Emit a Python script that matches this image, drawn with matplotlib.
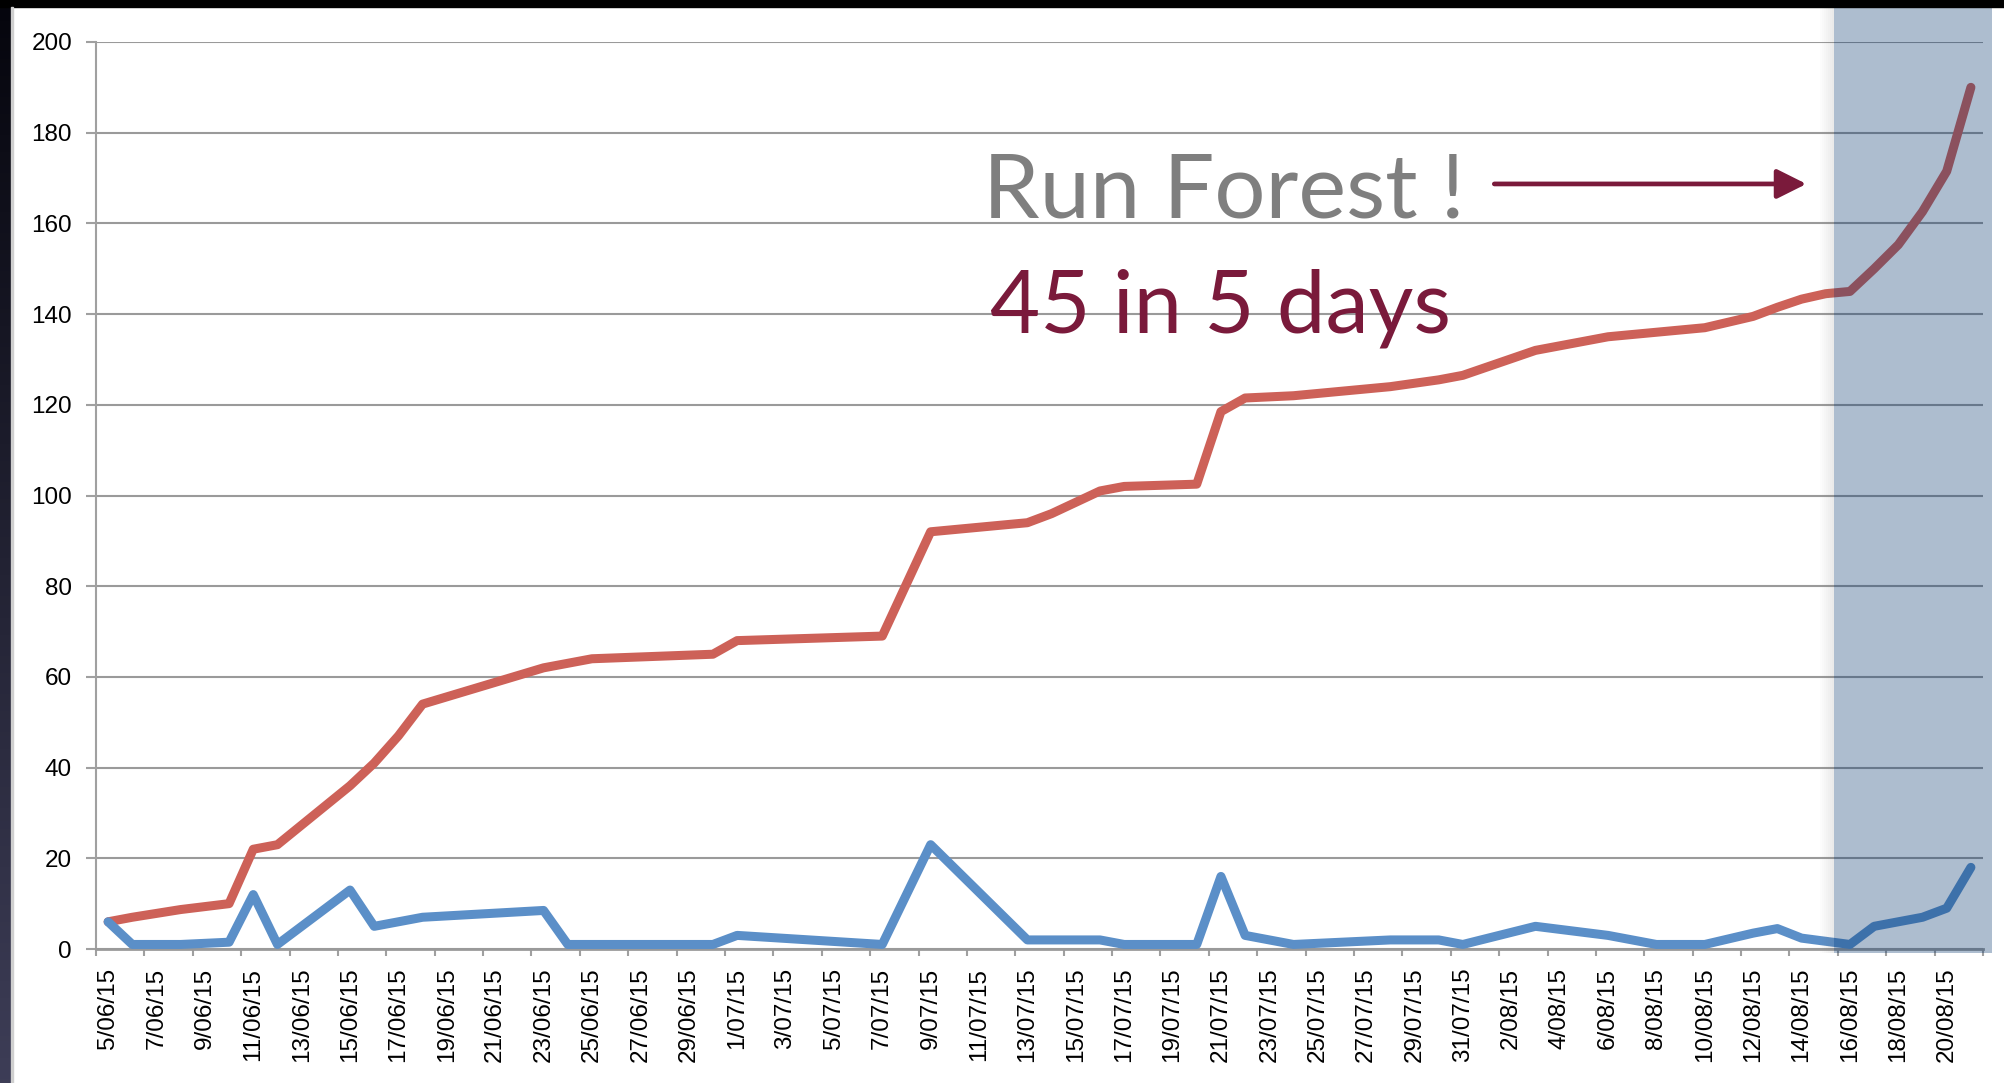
import numpy as np
import pandas as pd
import matplotlib
matplotlib.use("Agg")
import matplotlib.pyplot as plt
from matplotlib.patches import Rectangle

# data (days with a point)
dates = ["2015-06-05", "2015-06-06", "2015-06-08", "2015-06-10", "2015-06-11",
         "2015-06-12", "2015-06-15", "2015-06-16", "2015-06-17", "2015-06-18",
         "2015-06-23", "2015-06-24", "2015-06-25", "2015-06-30", "2015-07-01",
         "2015-07-07", "2015-07-09", "2015-07-13", "2015-07-14", "2015-07-15",
         "2015-07-16", "2015-07-17", "2015-07-20", "2015-07-21", "2015-07-22",
         "2015-07-24", "2015-07-28", "2015-07-30", "2015-07-31", "2015-08-03",
         "2015-08-06", "2015-08-08", "2015-08-10", "2015-08-12", "2015-08-13",
         "2015-08-14", "2015-08-15", "2015-08-16", "2015-08-17", "2015-08-18",
         "2015-08-19", "2015-08-20", "2015-08-21"]
total = [6, 7, 8.7, 10, 22,
         23, 36, 41, 47, 54,
         62, 63, 64, 65, 68,
         69, 92, 94, 96, 98.5,
         101, 102, 102.5, 118.5, 121.5,
         122, 124, 125.5, 126.5, 132,
         135, 136, 137, 139.5, 141.5,
         143.3, 144.5, 145, 150, 155.3,
         162.6, 171.5, 190]
daily = [6, 1, 1, 1.5, 12,
         1, 13, 5, 6, 7,
         8.5, 1, 1, 1, 3,
         1, 23, 2, 2, 2,
         2, 1, 1, 16, 3,
         1, 2, 2, 1, 5,
         3, 1, 1, 3.5, 4.5,
         2.4, 1.7, 1, 5, 6,
         7, 9, 18]

tick_labels = ["5/06/15", "7/06/15", "9/06/15", "11/06/15", "13/06/15", "15/06/15",
               "17/06/15", "19/06/15", "21/06/15", "23/06/15", "25/06/15", "27/06/15",
               "29/06/15", "1/07/15", "3/07/15", "5/07/15", "7/07/15", "9/07/15",
               "11/07/15", "13/07/15", "15/07/15", "17/07/15", "19/07/15", "21/07/15",
               "23/07/15", "25/07/15", "27/07/15", "29/07/15", "31/07/15", "2/08/15",
               "4/08/15", "6/08/15", "8/08/15", "10/08/15", "12/08/15", "14/08/15",
               "16/08/15", "18/08/15", "20/08/15"]

start = pd.Timestamp("2015-06-05")
x = (pd.to_datetime(dates) - start).days.values
tick_pos = (pd.to_datetime(tick_labels, format="%d/%m/%y") - start).days.values

W, H = 2004, 1083
fig = plt.figure(figsize=(W / 100, H / 100), dpi=100)
fig.patch.set_facecolor("white")

# slide background bits (dark strip on the left, black bar on top)
bg = fig.add_axes([0, 0, 11 / W, 1])
grad = np.linspace(0, 1, 256).reshape(-1, 1)
c_top = np.array([0.02, 0.02, 0.05])
c_bot = np.array([0.24, 0.24, 0.34])
img = c_top + (c_bot - c_top) * grad[:, :, None]
bg.imshow(img, aspect="auto", extent=[0, 1, 0, 1])
bg.set_axis_off()
fig.add_artist(Rectangle((0, 1 - 7 / H), 1, 7 / H, transform=fig.transFigure,
                         color="black", zorder=20))
fig.add_artist(Rectangle((11 / W, 0), 2 / W, 1 - 7 / H, transform=fig.transFigure,
                         color="#cfcfcf", zorder=20))

ax = fig.add_axes([96 / W, 1 - 949 / H, (1983 - 96) / W, (949 - 42) / H])
ax.set_facecolor("none")

ax.plot(x, total, color="#cd6158", lw=6.5, solid_capstyle="round",
        solid_joinstyle="round", zorder=3)
ax.plot(x, daily, color="#5b8fc8", lw=6.5, solid_capstyle="round",
        solid_joinstyle="round", zorder=3)

ax.set_xlim(-0.5, 77.5)
ax.set_ylim(0, 200)
ax.set_yticks(np.arange(0, 201, 20))
ax.yaxis.grid(True, color="#9a9a9a", lw=1.5, zorder=1)
ax.set_axisbelow(True)

ax.set_xticks(np.arange(-0.5, 78, 2))
ax.set_xticklabels([])
ax.set_xticks(tick_pos, minor=True)
ax.set_xticklabels(tick_labels, minor=True, rotation=90)

lab_font = "Liberation Sans"
ax.tick_params(axis="y", length=7.2, width=1.5, color="#a0a0a0", pad=10,
               labelsize=17.5)
ax.tick_params(axis="x", which="major", length=5, width=1.5, color="#a0a0a0")
ax.tick_params(axis="x", which="minor", length=0, pad=13.5, labelsize=17.5)
for t in ax.get_yticklabels() + ax.get_xticklabels(minor=True):
    t.set_fontfamily(lab_font)

for s in ["top", "right"]:
    ax.spines[s].set_visible(False)
ax.spines["left"].set_color("#a0a0a0")
ax.spines["left"].set_linewidth(1.5)
ax.spines["bottom"].set_color("#9a9a9a")
ax.spines["bottom"].set_linewidth(2)

# arrow + texts
ax.annotate("", xy=(70.2, 168.7), xytext=(57.3, 168.7),
            arrowprops=dict(arrowstyle="-|>,head_length=1.0,head_width=0.5",
                            mutation_scale=18, color="#7a1a3b", lw=3.4,
                            shrinkA=0, shrinkB=0))
fig.text(983 / W, 1 - 218 / H, "Run Forest !", fontsize=65, family="Lato",
         color="#7f7f7f", va="baseline", ha="left")
fig.text(990 / W, 1 - 333 / H, "45 in 5 days", fontsize=62.5, family="Lato",
         color="#7a1a3b", va="baseline", ha="left")

# highlight band over the last days, with a soft shadow on its left edge
x0, x1, y0, y1 = 1834, 1992, 7, 953
for i in range(7):
    fig.add_artist(Rectangle(((x0 - 14 + 2 * i) / W, 1 - y1 / H), (14 - 2 * i) / W,
                             (y1 - y0) / H, transform=fig.transFigure,
                             color="#808080", alpha=0.025, lw=0, zorder=9))
fig.add_artist(Rectangle((x0 / W, 1 - y1 / H), (x1 - x0) / W, (y1 - y0) / H,
                         transform=fig.transFigure, color=(0, 50 / 255, 108 / 255),
                         alpha=0.32, lw=0, zorder=10))

fig.savefig("out.png", dpi=100)
